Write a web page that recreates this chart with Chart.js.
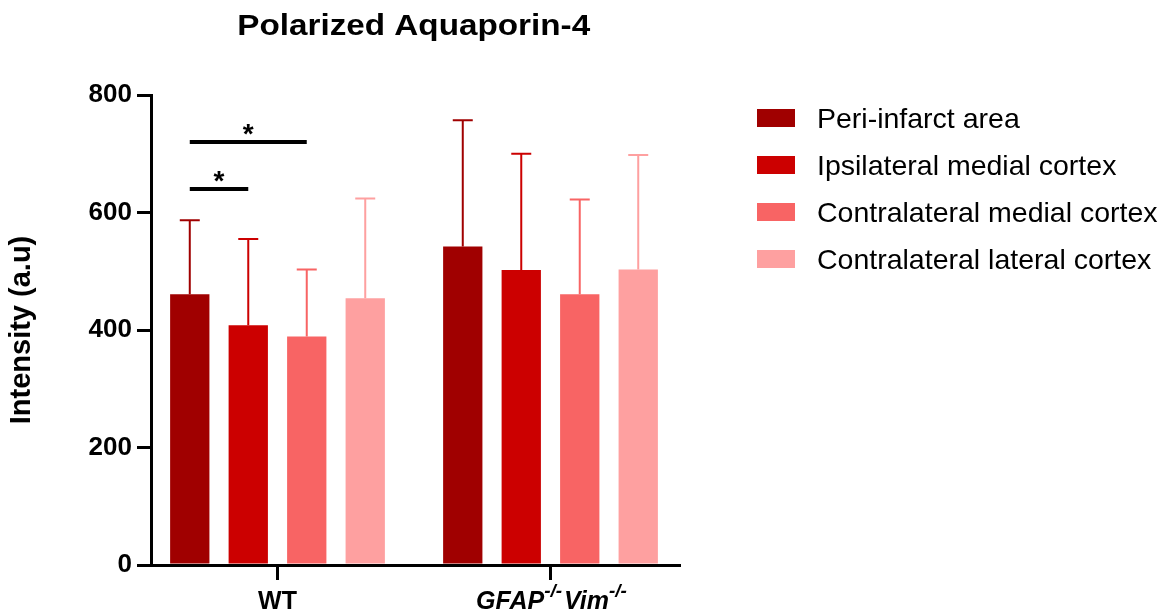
<!DOCTYPE html>
<html>
<head>
<meta charset="utf-8">
<title>Polarized Aquaporin-4</title>
<script src="https://cdn.jsdelivr.net/npm/chart.js@4.4.1/dist/chart.umd.min.js"></script>
<style>
  body { margin: 0; background: #fff; }
  canvas { display: block; }
</style>
</head>
<body>
<canvas id="aqp4" width="1172" height="615"></canvas>
<script>
const FONT = "'Liberation Sans', Arial, Helvetica, sans-serif"

// groups on the x axis (0 = WT, 1 = knockout)
const groupPos = [0, 1]
const groupNames = ['WT', 'GFAP-/-Vim-/-']
const regions = ['Peri-infarct area', 'Ipsilateral medial cortex', 'Contralateral medial cortex', 'Contralateral lateral cortex']
const colors = ['#a00000', '#cc0000', '#f86464', '#fea0a0']

// mean and upper error (SD) for each region, [WT, GFAP-/-Vim-/-]
const periMean = [461, 542]
const periSD = [126, 215]
const ipsiMean = [408, 502]
const ipsiSD = [147, 198]
const contraMedMean = [389, 461]
const contraMedSD = [114, 161]
const contraLatMean = [454, 503]
const contraLatSD = [170, 195]

const yTicks = [0, 200, 400, 600, 800]

// significance: [dataset a, dataset b, group, y value, mark]
const sigBars = [
    [0, 1, 0, 640, '*'],
    [0, 2, 0, 720, '*']
]

const means = [periMean, ipsiMean, contraMedMean, contraLatMean]
const sds = [periSD, ipsiSD, contraMedSD, contraLatSD]

/*========================== Datasets =============================*/
var datasets = regions.map(function (name, i) {
    return {
        label: name,
        data: groupPos.map(function (g, j) { return { x: g, y: means[i][j] } }),
        sd: sds[i],
        backgroundColor: colors[i],
        borderWidth: 0,
        categoryPercentage: 0.857,
        barPercentage: 0.672
    }
})

/*========================== Extras =============================*/
var extras = {
    id: 'extras',
    afterDatasetsDraw(chart) {
        const ctx = chart.ctx
        const y = chart.scales.y
        ctx.save()
        // error bars (upper only)
        chart.data.datasets.forEach(function (ds, i) {
            const meta = chart.getDatasetMeta(i)
            meta.data.forEach(function (bar, j) {
                const top = y.getPixelForValue(ds.data[j].y + ds.sd[j])
                ctx.strokeStyle = ds.backgroundColor
                ctx.lineWidth = 2
                ctx.beginPath()
                ctx.moveTo(bar.x, bar.y)
                ctx.lineTo(bar.x, top)
                ctx.moveTo(bar.x - 10, top)
                ctx.lineTo(bar.x + 10, top)
                ctx.stroke()
            })
        })
        // significance lines
        sigBars.forEach(function (s) {
            const xa = chart.getDatasetMeta(s[0]).data[s[2]].x
            const xb = chart.getDatasetMeta(s[1]).data[s[2]].x
            const py = y.getPixelForValue(s[3])
            ctx.strokeStyle = '#000'
            ctx.lineWidth = 4
            ctx.beginPath()
            ctx.moveTo(xa, py)
            ctx.lineTo(xb, py)
            ctx.stroke()
            ctx.fillStyle = '#000'
            ctx.font = 'bold 28px ' + FONT
            ctx.textAlign = 'center'
            ctx.textBaseline = 'alphabetic'
            ctx.fillText(s[4], (xa + xb) / 2, py + 1)
        })
        ctx.restore()
    },
    afterDraw(chart) {
        const ctx = chart.ctx
        const x = chart.scales.x
        ctx.save()
        ctx.fillStyle = '#000'
        ctx.textBaseline = 'alphabetic'

        // title
        ctx.font = 'bold 30px ' + FONT
        const title = 'Polarized Aquaporin-4'
        const tw = ctx.measureText(title).width
        const sx = 353 / tw
        ctx.translate(413.7, 35)
        ctx.scale(sx, 1)
        ctx.textAlign = 'center'
        ctx.fillText(title, 0, 0)
        ctx.setTransform(1, 0, 0, 1, 0, 0)

        // x labels, with superscripts
        groupNames.forEach(function (name, i) {
            const cx = x.getPixelForValue(groupPos[i])
            const parts = name.split(/(-\/-)/).filter(Boolean)
            const italic = i > 0 ? 'italic ' : ''
            const specs = parts.map(function (p) {
                const sup = p === '-/-'
                const font = italic + 'bold ' + (sup ? 19 : 25) + 'px ' + FONT
                ctx.font = font
                return { text: p, font: font, sup: sup, w: ctx.measureText(p).width + (sup ? 2 : 0) }
            })
            let total = specs.reduce(function (a, s) { return a + s.w }, 0)
            let px = cx - total / 2 + (i > 0 ? 2 : 0)
            ctx.textAlign = 'left'
            specs.forEach(function (s) {
                ctx.font = s.font
                ctx.fillText(s.text, px, s.sup ? 597 : 609)
                px += s.w
            })
        })

        // legend
        ctx.font = '28.5px ' + FONT
        ctx.textAlign = 'left'
        chart.data.datasets.forEach(function (ds, i) {
            const cy = 118 + i * 47
            ctx.fillStyle = ds.backgroundColor
            ctx.fillRect(757, cy - 9, 38, 18)
            ctx.fillStyle = '#000'
            ctx.fillText(ds.label, 817, cy + 10)
        })
        ctx.restore()
    }
}

/*========================== Chart =============================*/
var chart = new Chart(document.getElementById('aqp4'), {
    type: 'bar',
    data: { datasets: datasets },
    options: {
        responsive: false,
        animation: false,
        devicePixelRatio: 1,
        layout: { padding: { left: 0, top: 95, right: 493, bottom: 0 } },
        plugins: {
            legend: { display: false },
            title: { display: false },
            tooltip: { enabled: false }
        },
        scales: {
            x: {
                type: 'linear',
                min: -0.4634,
                max: 1.4707,
                offset: false,
                z: 1,
                afterBuildTicks: function (scale) {
                    scale.ticks = groupPos.map(function (v) { return { value: v } })
                },
                afterFit: function (scale) { scale.height = 50 },
                ticks: { display: false },
                grid: {
                    display: true,
                    offset: false,
                    drawOnChartArea: false,
                    drawTicks: true,
                    tickLength: 15,
                    lineWidth: 3,
                    color: '#000'
                },
                border: { display: true, color: '#000', width: 3 }
            },
            y: {
                min: 0,
                max: 800,
                z: 1,
                afterBuildTicks: function (scale) {
                    scale.ticks = yTicks.map(function (v) { return { value: v } })
                },
                afterFit: function (scale) { scale.width = 151 },
                ticks: {
                    color: '#000',
                    padding: 5,
                    font: { family: FONT, size: 26, weight: 'bold' }
                },
                grid: {
                    display: true,
                    drawOnChartArea: false,
                    drawTicks: true,
                    tickLength: 14,
                    lineWidth: 3,
                    color: '#000'
                },
                border: { display: true, color: '#000', width: 3 },
                title: {
                    display: true,
                    text: 'Intensity (a.u)',
                    color: '#000',
                    padding: { top: 5, bottom: 0 },
                    font: { family: FONT, size: 29, weight: 'bold' }
                }
            }
        }
    },
    plugins: [extras]
})
</script>
</body>
</html>
